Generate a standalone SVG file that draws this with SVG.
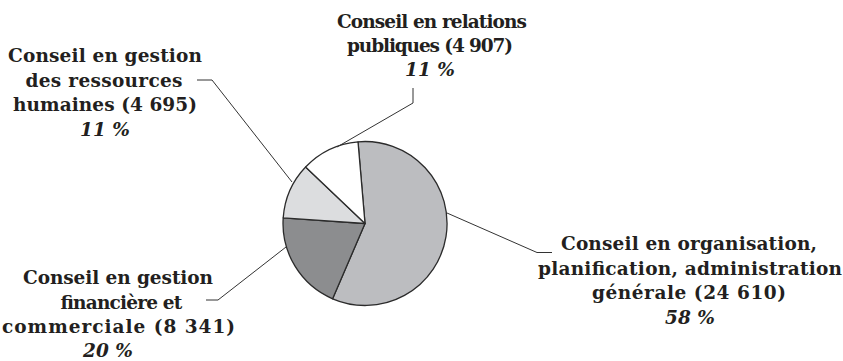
<svg xmlns="http://www.w3.org/2000/svg" width="843" height="361" viewBox="0 0 843 361">
<style>
.slice{stroke:#2b2b2b;stroke-width:1.3;stroke-linejoin:round}
.lead{fill:none;stroke:#333;stroke-width:1}
.lbl{font-family:"DejaVu Serif","Liberation Serif",serif;font-weight:bold;font-size:18.5px;fill:#231f20;text-anchor:middle}
.pct{font-style:italic}
</style>
<rect width="843" height="361" fill="#fff"/>
<g id="pie">
<g id="slice-organisation"><path class="slice" fill="#bcbdc0" d="M365,223.5 L358,141.8 A82,82 0 1 1 332.6,298.8 Z"/></g>
<g id="slice-financiere"><path class="slice" fill="#8c8d8f" d="M365,223.5 L332.6,298.8 A82,82 0 0 1 283.2,217.9 Z"/></g>
<g id="slice-rh"><path class="slice" fill="#dcdddf" d="M365,223.5 L283.2,217.9 A82,82 0 0 1 305.6,167 Z"/></g>
<g id="slice-relations"><path class="slice" fill="#ffffff" d="M365,223.5 L305.6,167 A82,82 0 0 1 358,141.8 Z"/></g>
</g>
<g id="connectors">
<polyline class="lead" points="413,88 413,103 337,147"/>
<polyline class="lead" points="197,80 212,80 292,182"/>
<polyline class="lead" points="206,300 218,300 286,247"/>
<polyline class="lead" points="447,213 537,252.5 552,252.5"/>
</g>
<g id="label-relations">
<text class="lbl" x="432" y="28" textLength="190">Conseil en relations</text>
<text class="lbl" x="430" y="52" textLength="166">publiques (4 907)</text>
<text class="lbl pct" x="430" y="76">11 %</text>
</g>
<g id="label-rh">
<text class="lbl" x="105" y="62" textLength="194">Conseil en gestion</text>
<text class="lbl" x="104" y="86.5" textLength="157">des ressources</text>
<text class="lbl" x="105" y="111" textLength="184">humaines (4 695)</text>
<text class="lbl pct" x="105" y="135.5">11 %</text>
</g>
<g id="label-financiere">
<text class="lbl" x="118" y="284" textLength="190">Conseil en gestion</text>
<text class="lbl" x="121" y="308.5" textLength="122">financière et</text>
<text class="lbl" x="118.5" y="333" textLength="233">commerciale (8 341)</text>
<text class="lbl pct" x="108" y="357">20 %</text>
</g>
<g id="label-organisation">
<text class="lbl" x="689" y="250" textLength="256">Conseil en organisation,</text>
<text class="lbl" x="690" y="274.5" textLength="304">planification, administration</text>
<text class="lbl" x="689" y="299" textLength="194">générale (24 610)</text>
<text class="lbl pct" x="690" y="323.5">58 %</text>
</g>
</svg>
